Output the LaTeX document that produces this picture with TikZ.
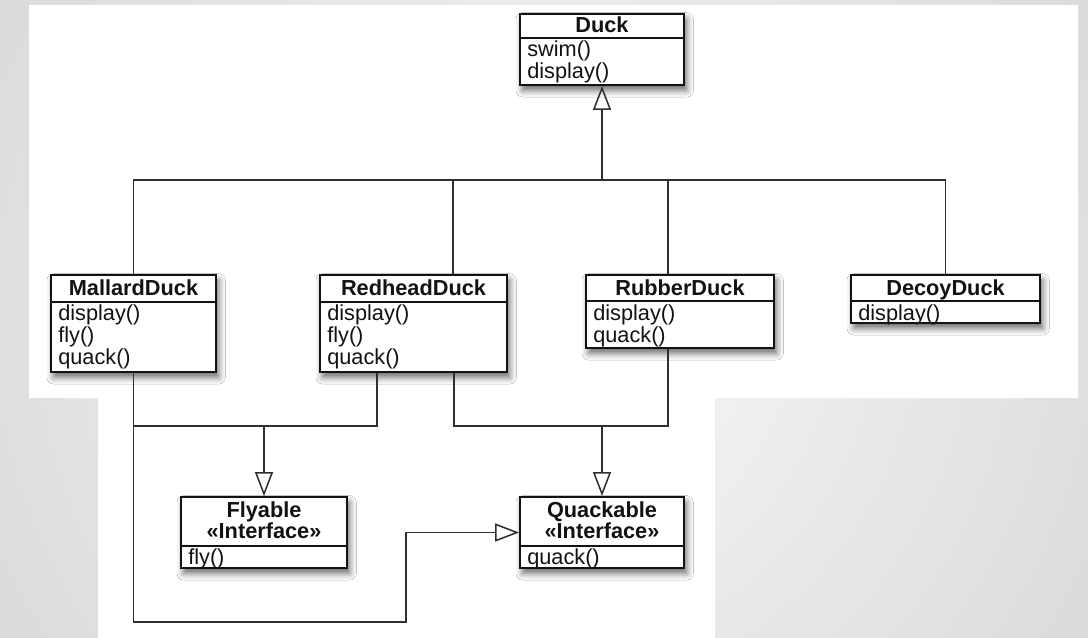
\documentclass[tikz,border=0pt]{standalone}
\usepackage{fontspec}
\setmainfont{Liberation Sans}
\usetikzlibrary{arrows.meta,fit,calc,shadows.blur}
\definecolor{bgin}{HTML}{FAFAFA}
\definecolor{bgout}{HTML}{B4B4B4}
\definecolor{ink}{HTML}{121212}
\definecolor{wire}{HTML}{303030}
\tikzset{
  cls/.style={draw=ink, line width=1.4pt, fill=white, inner sep=0pt,
    blur shadow={shadow xshift=2pt, shadow yshift=-4pt, shadow blur radius=5pt, shadow opacity=60}},
  divline/.style={draw=ink, line width=1.2pt},
  hdr/.style={font=\fontsize{16.3}{18}\bfseries, text=ink, anchor=base, inner sep=0pt},
  mem/.style={font=\fontsize{16.3}{18}\selectfont, text=ink, anchor=base west, inner sep=0pt},
  conn/.style={draw=wire, line width=1.15pt},
  inh/.style={conn, -{Triangle[open, length=18pt, width=13.5pt, line width=1.15pt]}},
}
\begin{document}
\begin{tikzpicture}[x=0.75pt, y=-0.75pt]
\useasboundingbox (0,0) rectangle (1088,638);
% background
\begin{scope}
  \clip (0,0) rectangle (1088,638);
  \shade[inner color=bgin, outer color=bgout] (-856,-1081) rectangle (1944,1719);
\end{scope}
\fill[white] (29,5) -- (1078,5) -- (1078,398) -- (715,398) -- (715,638)
  -- (98,638) -- (98,398) -- (29,398) -- cycle;

% ---- classes ----
% Duck
\node[cls, fit={(520,14) (684,85)}] (duck) {};
\draw[divline] (duck.west |- 0,38) -- (duck.east |- 0,38);
\node[hdr] (duckH) at (602,32.5) {Duck};
\node[mem] (duckM1) at (527,57) {swim()};
\node[mem] (duckM2) at (527,79) {display()};

% MallardDuck
\node[cls, fit={(51,275) (216,372)}] (mallard) {};
\draw[divline] (mallard.west |- 0,302) -- (mallard.east |- 0,302);
\node[hdr] (mallardH) at (133.5,295.5) {MallardDuck};
\node[mem] (mallardM1) at (58,320.5) {display()};
\node[mem] (mallardM2) at (58,342.5) {fly()};
\node[mem] (mallardM3) at (58,364.5) {quack()};

% RedheadDuck
\node[cls, fit={(320,275) (507,372)}] (redhead) {};
\draw[divline] (redhead.west |- 0,302) -- (redhead.east |- 0,302);
\node[hdr] (redheadH) at (413.5,295.5) {RedheadDuck};
\node[mem] (redheadM1) at (327,320.5) {display()};
\node[mem] (redheadM2) at (327,342.5) {fly()};
\node[mem] (redheadM3) at (327,364.5) {quack()};

% RubberDuck
\node[cls, fit={(586,275) (774,348)}] (rubber) {};
\draw[divline] (rubber.west |- 0,301) -- (rubber.east |- 0,301);
\node[hdr] (rubberH) at (680,295) {RubberDuck};
\node[mem] (rubberM1) at (593,320) {display()};
\node[mem] (rubberM2) at (593,342) {quack()};

% DecoyDuck
\node[cls, fit={(851,275) (1040,323)}] (decoy) {};
\draw[divline] (decoy.west |- 0,301) -- (decoy.east |- 0,301);
\node[hdr] (decoyH) at (945.5,295) {DecoyDuck};
\node[mem] (decoyM1) at (858,320) {display()};

% Flyable
\node[cls, fit={(181,497) (347,568)}] (flyable) {};
\draw[divline] (flyable.west |- 0,546) -- (flyable.east |- 0,546);
\node[hdr] (flyableH1) at (264,517) {Flyable};
\node[hdr] (flyableH2) at (264,538.5) {«Interface»};
\node[mem] (flyableM1) at (188,564) {fly()};

% Quackable
\node[cls, fit={(520,497) (684,568)}] (quackable) {};
\draw[divline] (quackable.west |- 0,546) -- (quackable.east |- 0,546);
\node[hdr] (quackableH1) at (602,517) {Quackable};
\node[hdr] (quackableH2) at (602,538.5) {«Interface»};
\node[mem] (quackableM1) at (527,564) {quack()};

% ---- connectors ----
\coordinate (bus) at (602,180);
\coordinate (lowbus) at (0,426);
\coordinate (rhTop) at ($(redhead.north)+(39.5,0)$);
\coordinate (rbTop) at ($(rubber.north)+(-12,0)$);
\coordinate (rbBot) at ($(rubber.south)+(-12,0)$);
\coordinate (rhBotL) at ($(redhead.south)+(-36.5,0)$);
\coordinate (rhBotR) at ($(redhead.south)+(40.5,0)$);

% inheritance from Duck
\draw[conn] (mallard.north) |- (bus) -| (decoy.north);
\draw[conn] (rhTop) |- (bus);
\draw[conn] (rbTop) |- (bus);
\draw[inh] (bus) -- (duck.south);

% Flyable
\draw[conn] (mallard.south) |- (rhBotL |- lowbus) -- (rhBotL);
\draw[inh] (flyable.north |- lowbus) -- (flyable.north);

% Quackable
\draw[conn] (rhBotR) |- (rbBot |- lowbus) -- (rbBot);
\draw[inh] (quackable.north |- lowbus) -- (quackable.north);
\draw[inh] (mallard.south) |- (406,622) |- (quackable.west);
\end{tikzpicture}
\end{document}
